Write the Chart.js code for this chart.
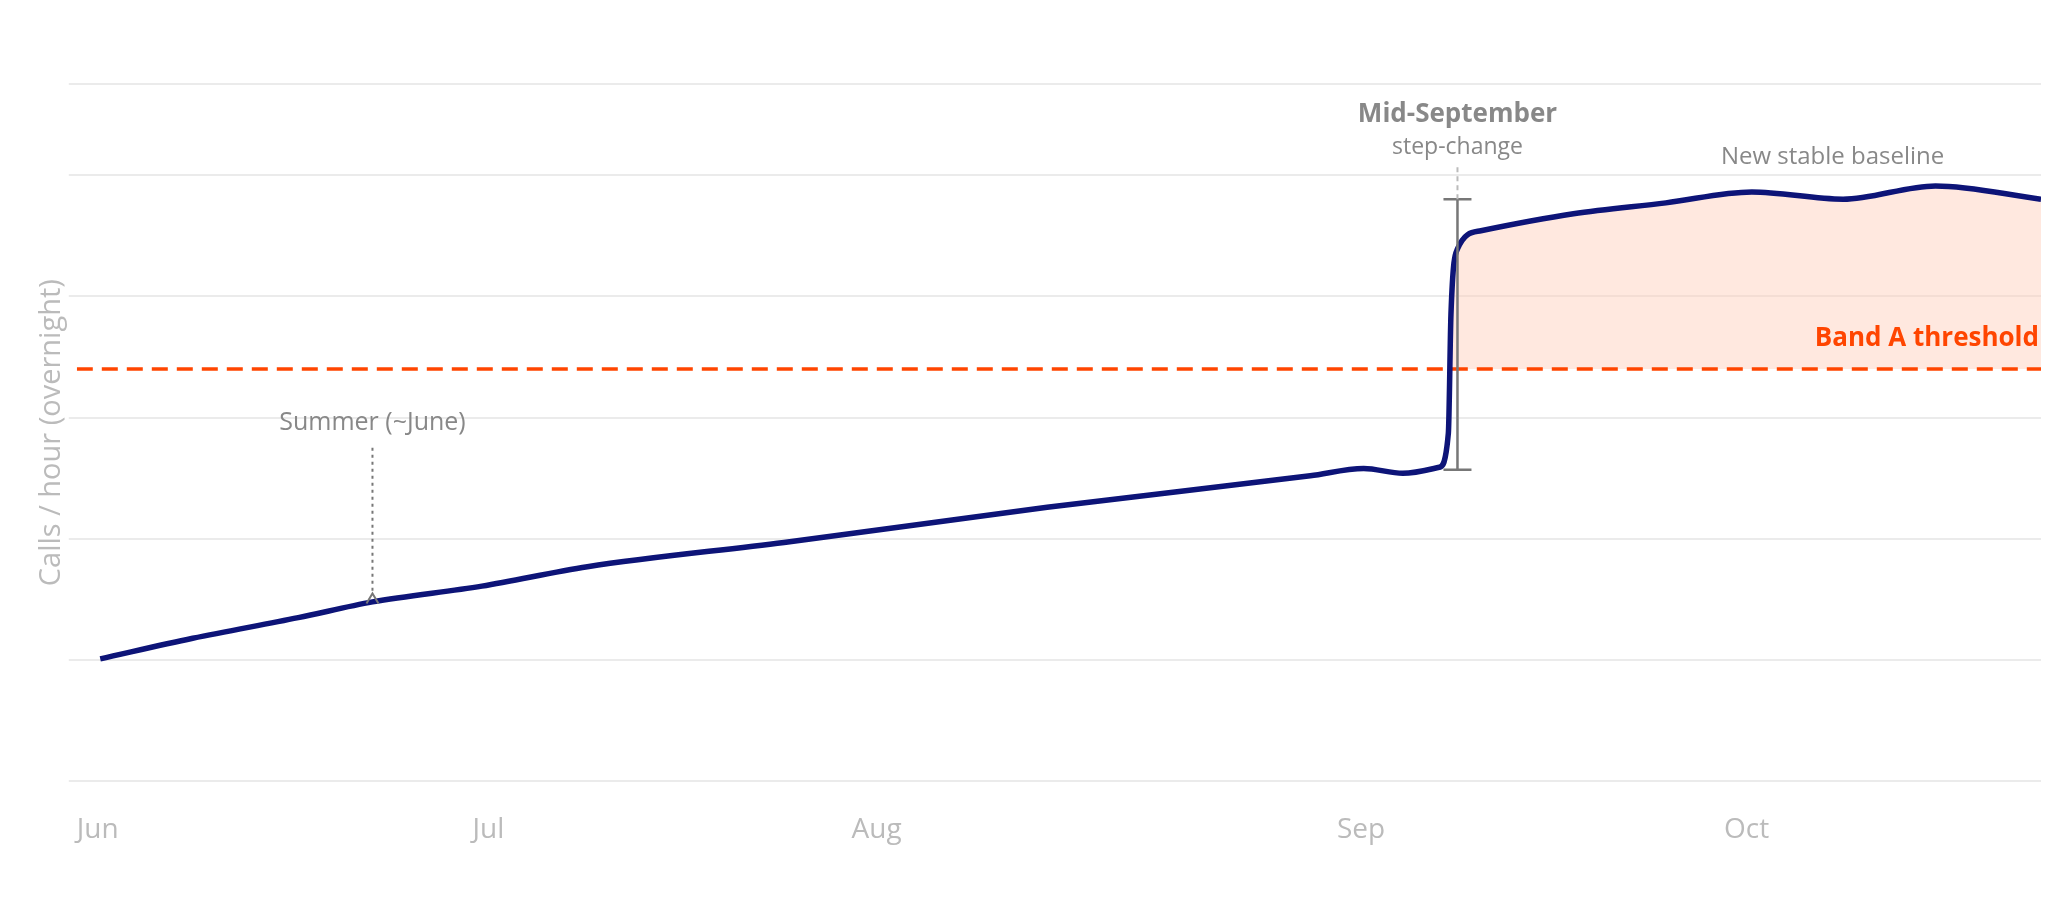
<!DOCTYPE html>
<html><head><meta charset="utf-8">
<script src="https://cdn.jsdelivr.net/npm/chart.js@4"></script>
<style>html,body{margin:0;background:#fff}#w{width:2055px;height:897px}</style>
</head><body><div id="w"><canvas id="c"></canvas></div>
<script>
const monthLabels=['Jun','Jul','Aug','Sep','Oct'];
const monthPos=[0,30,59.8,97,126.6];
const xs=[0.2,7.3,15.4,21.1,29.5,37.6,52.7,72.9,93.1,97.2,100.2,103,103.7,103.9,104.4,106.2,113.3,120.4,127,134,141.1,149.2];
const ys=[1.01,1.18,1.35,1.48,1.61,1.77,1.97,2.26,2.52,2.58,2.54,2.59,2.87,3.85,4.39,4.54,4.68,4.77,4.86,4.80,4.91,4.80];
const threshold=3.40;
const main=xs.map((x,i)=>({x,y:ys[i]}));
const fillPts=main.slice(13);
const F='"Open Sans", "Noto Sans", sans-serif';
const ann={id:'ann',afterDatasetsDraw(ch){
 const c=ch.ctx,X=ch.scales.x,Y=ch.scales.y;
 c.save();
 let sx=X.getPixelForValue(21.1);
 c.strokeStyle='#777';c.lineWidth=2;c.setLineDash([3,4]);
 c.beginPath();c.moveTo(sx,Y.getPixelForValue(2.75));c.lineTo(sx,Y.getPixelForValue(1.55));c.stroke();
 c.setLineDash([]);c.beginPath();let ay=Y.getPixelForValue(1.55);
 c.moveTo(sx-6,ay+10);c.lineTo(sx,ay);c.lineTo(sx+6,ay+10);c.stroke();
 c.fillStyle='#888';c.font='25px '+F;c.textAlign='center';c.textBaseline='middle';
 c.fillText('Summer (~June)',sx,Y.getPixelForValue(2.96));
 let mx=X.getPixelForValue(104.4),t=Y.getPixelForValue(4.80),b=Y.getPixelForValue(2.57);
 c.strokeStyle='#777';c.lineWidth=2.5;
 c.beginPath();c.moveTo(mx,t);c.lineTo(mx,b);c.moveTo(mx-14,t);c.lineTo(mx+14,t);c.moveTo(mx-14,b);c.lineTo(mx+14,b);c.stroke();
 c.strokeStyle='#bbb';c.lineWidth=2;c.setLineDash([5,4]);
 c.beginPath();c.moveTo(mx,t);c.lineTo(mx,Y.getPixelForValue(5.08));c.stroke();c.setLineDash([]);
 c.fillStyle='#888';c.font='bold 26px '+F;c.fillText('Mid-September',mx,Y.getPixelForValue(5.50));
 c.font='23px '+F;c.fillText('step-change',mx,Y.getPixelForValue(5.23));
 c.font='24px '+F;c.fillText('New stable baseline',X.getPixelForValue(133.2),Y.getPixelForValue(5.15));
 c.fillStyle='#FF4500';c.font='bold 26px '+F;c.textAlign='right';
 c.fillText('Band A threshold',X.right-2,Y.getPixelForValue(3.65));
 c.restore();}};
new Chart(document.getElementById('c'),{type:'scatter',
 data:{datasets:[
  {data:fillPts,showLine:true,borderWidth:0,pointRadius:0,backgroundColor:'rgba(255,205,185,0.45)',fill:{value:threshold},cubicInterpolationMode:'monotone',order:3},
  {data:[{x:-1.6,y:threshold},{x:149.2,y:threshold}],showLine:true,borderColor:'#FF4500',borderWidth:3.5,borderDash:[16,9],pointRadius:0,order:2},
  {data:main,showLine:true,borderColor:'#0D1478',borderWidth:5.5,pointRadius:0,cubicInterpolationMode:'monotone',order:1}
 ]},
 options:{responsive:true,maintainAspectRatio:false,animation:false,
  layout:{padding:{top:84,right:14,left:34,bottom:26}},
  plugins:{legend:{display:false},tooltip:{enabled:false}},
  scales:{
   x:{type:'linear',min:-1.6,max:149.2,grid:{display:false},border:{display:false},
    afterBuildTicks:a=>{a.ticks=monthPos.map(v=>({value:v}));},
    ticks:{callback:(v,i)=>monthLabels[i],color:'#bbb',font:{size:28,family:F},padding:24,maxRotation:0,autoSkip:false}},
   y:{min:0,max:5.75,grid:{color:'#ebebeb',lineWidth:2},border:{display:false},
    afterBuildTicks:a=>{a.ticks=[0,1,2,3,4,5,5.75].map(v=>({value:v}));},
    ticks:{display:false},
    title:{display:true,text:'Calls / hour (overnight)',color:'#bbb',font:{size:29,family:F},padding:0}}
  }},plugins:[ann]});
</script></body></html>
